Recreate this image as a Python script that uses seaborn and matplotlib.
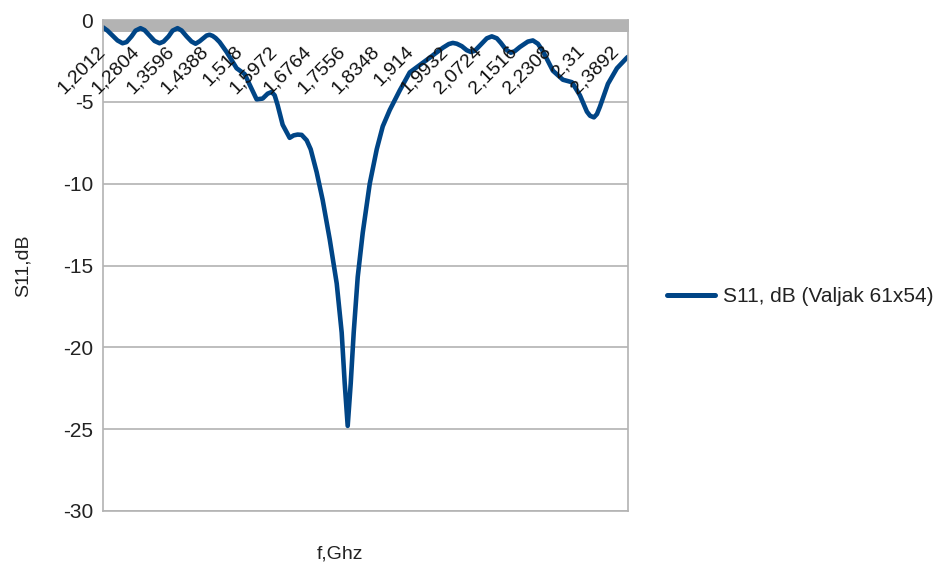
import numpy as np
import pandas as pd
import seaborn as sns
import matplotlib
matplotlib.use("Agg")
import matplotlib.pyplot as plt
from matplotlib.ticker import MultipleLocator, FixedLocator

# ---- data ----
freq_ghz = [1.2012, 1.2116, 1.2232, 1.2348, 1.2464, 1.2556, 1.2672, 1.2765,
            1.2880, 1.2973, 1.3089, 1.3205, 1.3320, 1.3413, 1.3529, 1.3622,
            1.3737, 1.3830, 1.3946, 1.4062, 1.4154, 1.4247, 1.4316, 1.4409,
            1.4478, 1.4548, 1.4617, 1.4710, 1.4872,
            1.5104, 1.5289, 1.5405, 1.5567, 1.5706, 1.5822, 1.5914, 1.5984,
            1.6053, 1.6169, 1.6331, 1.6424, 1.6516, 1.6609, 1.6725, 1.6818,
            1.6887, 1.6956, 1.7095,
            1.7258, 1.7420, 1.7535, 1.7605, 1.7674, 1.7744, 1.7813, 1.7906,
            1.8022, 1.8184, 1.8346, 1.8485, 1.8647, 1.8879, 1.9110, 1.9342,
            1.9573, 1.9874, 2.0013, 2.0106, 2.0199, 2.0314, 2.0430, 2.0523,
            2.0616, 2.0755, 2.0893, 2.1009, 2.1125, 2.1218, 2.1333, 2.1449,
            2.1542, 2.1658, 2.1843, 2.1959, 2.2075, 2.2190, 2.2422, 2.2654,
            2.2862, 2.3047, 2.3209, 2.3282, 2.3371, 2.3441, 2.3510, 2.3696,
            2.3904, 2.4136, 2.4160]
s11_db = [-0.45, -0.65, -0.95, -1.25, -1.42, -1.35, -1.0, -0.65,
          -0.5, -0.62, -0.95, -1.28, -1.42, -1.32, -1.0, -0.65,
          -0.5, -0.64, -1.0, -1.32, -1.45, -1.3, -1.15, -0.95,
          -0.9, -0.97, -1.1, -1.35, -1.95,
          -2.95, -3.3, -3.95, -4.85, -4.8, -4.5, -4.4, -4.6,
          -5.2, -6.4, -7.2, -7.05, -7.0, -7.02, -7.35, -7.9,
          -8.6, -9.3, -11.0,
          -13.4, -16.1, -19.1, -22.2, -24.8, -22.2, -19.1, -15.7,
          -13.0, -10.0, -7.9, -6.5, -5.5, -4.3, -3.2, -2.75,
          -2.3, -1.7, -1.47, -1.4, -1.45, -1.6, -1.85, -1.95,
          -1.88, -1.5, -1.12, -1.0, -1.12, -1.4, -1.8, -2.0,
          -1.9, -1.65, -1.32, -1.25, -1.45, -1.9, -3.1, -3.65,
          -3.8, -4.6, -5.6, -5.85, -5.95, -5.75, -5.3, -3.9,
          -2.95, -2.3, -2.25]

tick_freqs = [1.2012, 1.2804, 1.3596, 1.4388, 1.518, 1.5972, 1.6764, 1.7556,
              1.8348, 1.914, 1.9932, 2.0724, 2.1516, 2.2308, 2.31, 2.3892]
tick_labels = ["1,2012", "1,2804", "1,3596", "1,4388", "1,518", "1,5972",
               "1,6764", "1,7556", "1,8348", "1,914", "1,9932", "2,0724",
               "2,1516", "2,2308", "2,31", "2,3892"]
y_ticks = [0, -5, -10, -15, -20, -25, -30]
series_name = "S11, dB (Valjak 61x54)"
x_title = "f,Ghz"
y_title = "S11,dB"

# ---- styling ----
sns.set_theme(style="white")
plt.rcParams["font.family"] = ["Liberation Sans", "DejaVu Sans"]

GRAY = "#b3b3b3"
BLUE = "#004586"

W, H = 945, 569
fig = plt.figure(figsize=(W / 100, H / 100), dpi=100)
ax = fig.add_axes([103 / W, 1 - 511 / H, 525 / W, 491 / H])

df = pd.DataFrame({"f": freq_ghz, "s11": s11_db, "series": series_name})
sns.lineplot(data=df, x="f", y="s11", hue="series", palette=[BLUE],
             linewidth=3.3, sort=False, estimator=None, ax=ax,
             solid_joinstyle="round", solid_capstyle="round")

ax.set_xlim(1.2012, 2.4160)
ax.set_ylim(-30, 0)

# horizontal grid
ax.set_yticks(y_ticks)
ax.set_yticklabels([str(v) for v in y_ticks])
ax.yaxis.grid(True, color=GRAY, linewidth=1.2)
ax.xaxis.grid(False)
ax.tick_params(axis="y", which="major", direction="out", length=4,
               width=1, color=GRAY, labelsize=15, labelcolor="#222222", pad=3)

# category-style axis at the top (dense ticks form the gray band)
ax.xaxis.set_ticks_position("top")
ax.xaxis.set_major_locator(FixedLocator(tick_freqs))
ax.xaxis.set_minor_locator(MultipleLocator(0.002))
ax.tick_params(axis="x", which="both", direction="in", length=8.6,
               width=1.3, color=GRAY, labeltop=False, labelbottom=False)

for sp in ax.spines.values():
    sp.set_color(GRAY)
    sp.set_linewidth(1.2)

# rotated category labels drawn just under the top axis
for f, lab in zip(tick_freqs, tick_labels):
    ax.text(f, -1.75, lab, rotation=45, rotation_mode="anchor",
            ha="right", va="center", fontsize=14, color="#111111")

# axis titles
ax.set_xlabel(x_title, fontsize=14, color="#222222")
ax.xaxis.set_label_position("bottom")
ax.xaxis.set_label_coords((340 - 103) / 525, -(554 - 511) / 491)
ax.xaxis.label.set_va("center")
ax.set_ylabel(y_title, fontsize=14, color="#222222")
ax.yaxis.set_label_coords((23 - 103) / 525, 0.5)
ax.yaxis.label.set_va("center")

# legend outside, on the right
handles, labels = ax.get_legend_handles_labels()
leg = ax.legend(handles, labels, loc="center left",
                bbox_to_anchor=(667 / W, 1 - 297 / H),
                bbox_transform=fig.transFigure, frameon=False,
                fontsize=15, handlelength=2.3, handletextpad=0.38,
                borderpad=0, borderaxespad=0)
for ln in leg.get_lines():
    ln.set_linewidth(3.6)
for t in leg.get_texts():
    t.set_color("#222222")

fig.savefig("out.png", dpi=100)
